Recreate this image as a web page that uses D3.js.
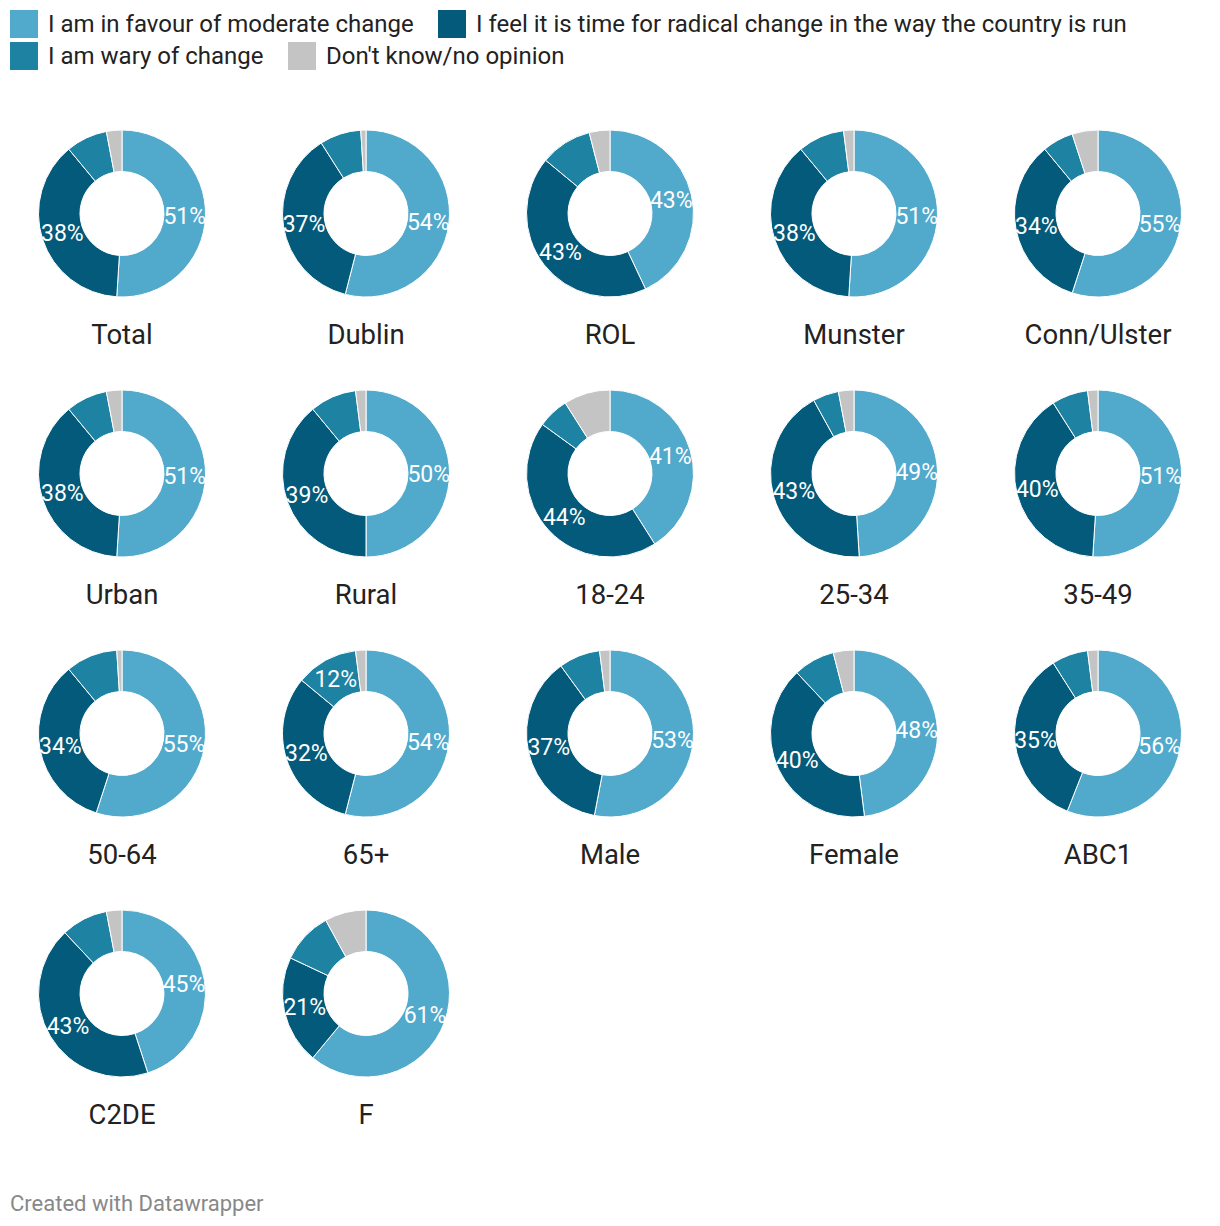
<!DOCTYPE html>
<html><head><meta charset="utf-8">
<script src="https://cdn.jsdelivr.net/npm/d3@7"></script>
<style>
body{margin:0;background:#fff;font-family:Roboto,"Noto Sans",sans-serif;}
</style></head>
<body><svg id="chart" width="1220" height="1226"></svg>
<script>
const categories = ["Total","Dublin","ROL","Munster","Conn/Ulster","Urban","Rural","18-24","25-34","35-49","50-64","65+","Male","Female","ABC1","C2DE","F"];
const moderate = [51,54,43,51,55,51,50,41,49,51,55,54,53,48,56,45,61];
const radical  = [38,37,43,38,34,38,39,44,43,40,34,32,37,40,35,43,21];
const wary     = [8,8,10,9,6,8,9,6,5,7,10,12,8,8,7,9,10];
const dontKnow = [3,1,4,2,5,3,2,9,3,2,1,2,2,4,2,3,8];
const seriesNames = ["I am in favour of moderate change","I feel it is time for radical change in the way the country is run","I am wary of change","Don't know/no opinion"];
const seriesColors = ["#51a9cc","#035a7a","#1e82a2","#c4c4c4"];

const svg = d3.select("#chart");
const seriesData = [moderate, radical, wary, dontKnow];
const color = d3.scaleOrdinal().domain(seriesNames).range(seriesColors);

// Legend
const legendItems = [
  {name:seriesNames[0], x:10, y:10},
  {name:seriesNames[1], x:438, y:10},
  {name:seriesNames[2], x:10, y:42},
  {name:seriesNames[3], x:288, y:42}
];
const lg = svg.append("g");
legendItems.forEach(d=>{
  lg.append("rect").attr("x",d.x).attr("y",d.y).attr("width",28).attr("height",28).attr("fill",color(d.name));
  lg.append("text").attr("x",d.x+38).attr("y",d.y+22).attr("font-size",24).attr("fill","#222").text(d.name);
});

// Donuts
const cols = 5, colW = 244, rowH = 260, x0 = 122, y0 = 213.5;
const rOuter = 83.5, rInner = 42;
const pie = d3.pie().sort(null).value(d=>d.value);
const arc = d3.arc().innerRadius(rInner).outerRadius(rOuter);

categories.forEach((cat,i)=>{
  const cx = x0 + (i%cols)*colW;
  const cy = y0 + Math.floor(i/cols)*rowH;
  const vals = seriesNames.map((n,k)=>({name:n, value:seriesData[k][i]}));
  const g = svg.append("g").attr("transform",`translate(${cx},${cy})`);
  const arcs = pie(vals);
  g.selectAll("path").data(arcs).join("path")
    .attr("d",arc).attr("fill",d=>color(d.data.name))
    .attr("stroke","#fff").attr("stroke-width",1);
  g.selectAll("text.v").data(arcs.filter(d=>d.data.value>10)).join("text")
    .attr("class","v")
    .attr("transform",d=>`translate(${arc.centroid(d)})`)
    .attr("text-anchor","middle").attr("dy","0.36em")
    .attr("font-size",23).attr("fill","#fff")
    .text(d=>d.data.value+"%");
  g.append("text").attr("x",0).attr("y",130).attr("text-anchor","middle")
    .attr("font-size",27.5).attr("fill","#222").text(cat);
});

svg.append("text").attr("x",10).attr("y",1211).attr("font-size",22).attr("fill","#888").text("Created with Datawrapper");
</script></body></html>
